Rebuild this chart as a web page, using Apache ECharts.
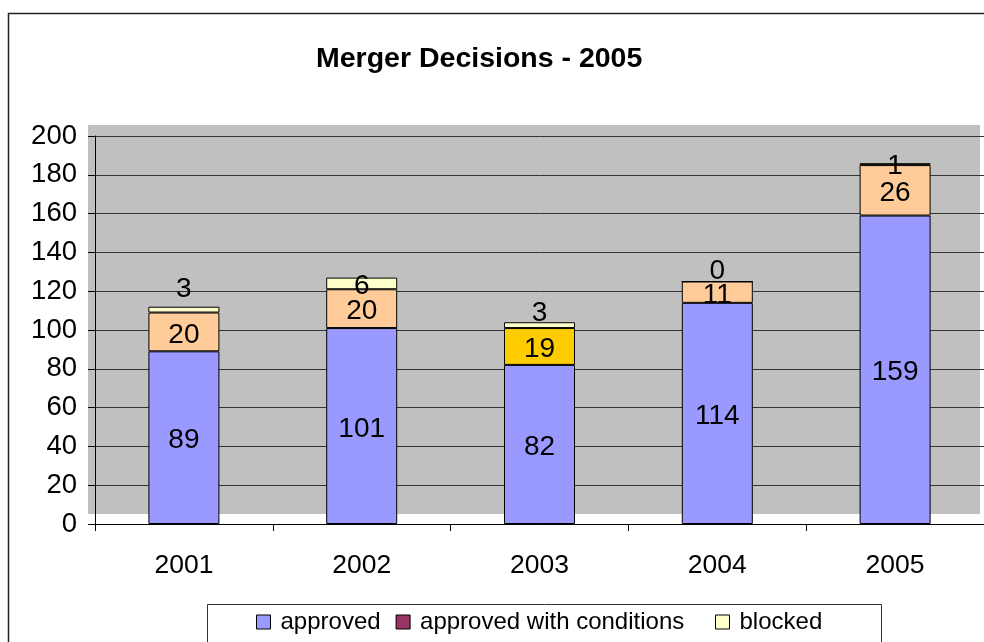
<!DOCTYPE html>
<html>
<head>
<meta charset="utf-8">
<script src="https://cdn.jsdelivr.net/npm/echarts@6/dist/echarts.min.js"></script>
<style>
html,body{margin:0;padding:0;background:#fff;}
#chart{width:984px;height:642px;}
</style>
</head>
<body>
<div id="chart"></div>
<script>
var years = ['2001', '2002', '2003', '2004', '2005'];
var approved = [89, 101, 82, 114, 159];
var approvedWithConditions = [20, 20, 19, 11, 26];
var blocked = [3, 6, 3, 0, 1];
var yTicks = [0, 20, 40, 60, 80, 100, 120, 140, 160, 180, 200];

var FONT = '"Liberation Sans", Arial, sans-serif';
var condColors = ['#FFCC99', '#FFCC99', '#FFCC00', '#FFCC99', '#FFCC99'];
var blockedLabelShift = [-20, 3, -12, -10, 2];

var chart = echarts.init(document.getElementById('chart'));

var labelStyle = {show: true, color: '#000', fontSize: 28, fontFamily: FONT};
var legendCommon = {
  top: 605,
  itemWidth: 14, itemHeight: 14,
  icon: 'rect',
  textStyle: {fontFamily: FONT, fontSize: 24, color: '#000', padding: [0, 0, 0, 5]},
  itemStyle: {borderColor: '#000', borderWidth: 1}
};

var option = {
  backgroundColor: '#fff',
  animation: false,
  title: {
    text: 'Merger Decisions - 2005',
    left: 311, top: 40,
    textStyle: {fontFamily: FONT, fontWeight: 'bold', fontSize: 28.5, color: '#000'}
  },
  graphic: {elements: [
    {type: 'rect', z: -10, silent: true, shape: {x: 8.5, y: 13.5, width: 1000, height: 700},
     style: {fill: '#fff', stroke: '#222', lineWidth: 1.5}},
    {type: 'rect', z: -9, silent: true, shape: {x: 88, y: 125, width: 892, height: 389},
     style: {fill: '#C0C0C0'}},
    {type: 'rect', z: -9, silent: true, shape: {x: 207.5, y: 604.5, width: 674, height: 60},
     style: {fill: '#fff', stroke: '#333', lineWidth: 1}}
  ]},
  legend: [
    Object.assign({}, legendCommon, {
      left: 251, itemGap: 15,
      data: [
        {name: 'approved', itemStyle: {color: '#9999FF'}},
        {name: 'approved with conditions', itemStyle: {color: '#993366'}}
      ]
    }),
    Object.assign({}, legendCommon, {
      left: 710,
      data: [{name: 'blocked', itemStyle: {color: '#FFFFCC'}}]
    })
  ],
  grid: {left: 95, right: 0, top: 136, bottom: 118, containLabel: false, outerBoundsMode: 'none'},
  xAxis: {
    type: 'category',
    data: years,
    axisLine: {show: true, lineStyle: {color: '#000', width: 1}},
    axisTick: {show: true, length: 7, lineStyle: {color: '#000'}},
    axisLabel: {fontFamily: FONT, fontSize: 26.5, color: '#000', margin: 28},
    splitLine: {show: false}
  },
  yAxis: {
    type: 'value',
    min: yTicks[0], max: yTicks[yTicks.length - 1], interval: yTicks[1] - yTicks[0],
    axisLine: {show: true, lineStyle: {color: '#000', width: 1}},
    axisTick: {show: true, length: 7, lineStyle: {color: '#000'}},
    axisLabel: {fontFamily: FONT, fontSize: 27.5, color: '#000', margin: 18},
    splitLine: {show: true, lineStyle: {color: '#333', width: 1}}
  },
  series: [
    {
      name: 'approved', type: 'bar', stack: 'total', barWidth: 71,
      itemStyle: {color: '#9999FF', borderColor: '#000', borderWidth: 1},
      label: Object.assign({position: 'inside', offset: [0, 3]}, labelStyle),
      data: approved
    },
    {
      name: 'approved with conditions', type: 'bar', stack: 'total', barWidth: 71,
      itemStyle: {color: '#993366', borderColor: '#000', borderWidth: 1},
      label: Object.assign({position: 'inside', offset: [0, 3]}, labelStyle),
      data: approvedWithConditions.map(function (v, i) {
        return {value: v, itemStyle: {color: condColors[i]}};
      })
    },
    {
      name: 'blocked', type: 'bar', stack: 'total', barWidth: 71,
      itemStyle: {color: '#FFFFCC', borderColor: '#000', borderWidth: 1},
      label: Object.assign({position: 'inside'}, labelStyle),
      data: blocked.map(function (v, i) {
        return {value: v, label: {offset: [0, blockedLabelShift[i]]}};
      })
    }
  ]
};
chart.setOption(option);
</script>
</body>
</html>
